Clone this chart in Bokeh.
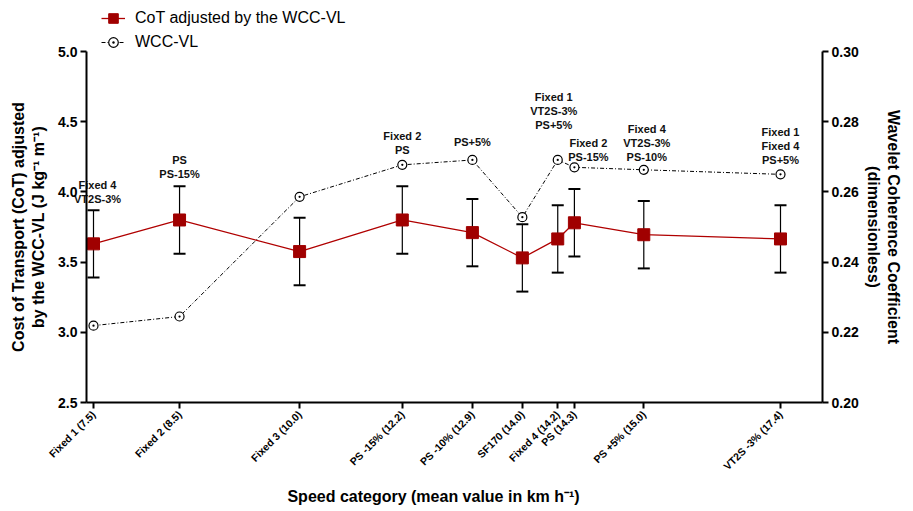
import math
from bokeh.plotting import figure
from bokeh.models import (Range1d, LinearAxis, FixedTicker, NumeralTickFormatter,
                          CustomJSTickFormatter, ColumnDataSource, Whisker, TeeHead,
                          Legend, LegendItem, Label)
from bokeh.core.properties import value
from bokeh.embed import file_html
from bokeh.resources import INLINE

# ---------------- data ----------------
x_labels = ["Fixed 1 (7.5)", "Fixed 2 (8.5)", "Fixed 3 (10.0)", "PS -15% (12.2)",
            "PS -10% (12.9)", "SF170 (14.0)", "Fixed 4 (14.2)", "PS (14.3)",
            "PS +5% (15.0)", "VT2S -3% (17.4)"]
x_pos = [7.5, 8.74, 10.47, 11.95, 12.96, 13.68, 14.19, 14.43, 15.43, 17.4]
cot = [3.63, 3.80, 3.575, 3.80, 3.71, 3.53, 3.665, 3.78, 3.695, 3.665]
cot_sd = [0.24, 0.24, 0.24, 0.24, 0.24, 0.24, 0.24, 0.24, 0.24, 0.24]
wcc = [0.2219, 0.2245, 0.2586, 0.2677, 0.2691, 0.2528, 0.2691, 0.2670, 0.2663, 0.2650]

note_idx = [0, 1, 3, 4, 6, 7, 8, 9]
note_text = ["Fixed 4\nVT2S-3%", "PS\nPS-15%", "Fixed 2\nPS", "PS+5%",
             "Fixed 1\nVT2S-3%\nPS+5%", "Fixed 2\nPS-15%",
             "Fixed 4\nVT2S-3%\nPS-10%", "Fixed 1\nFixed 4\nPS+5%"]
note_y = [3.946, 4.124, 4.295, 4.352, 4.473, 4.252, 4.252, 4.224]
note_dx = [4, 0, 0, 0, -4, 14, 3, 0]

left_ticks = [2.5, 3.0, 3.5, 4.0, 4.5, 5.0]
right_ticks = [0.20, 0.22, 0.24, 0.26, 0.28, 0.30]

FONT = "Liberation Sans"

# axis extents (data units) and full-canvas ranges
X_LO, X_HI = 7.39913, 18.00524
Y_LO, Y_HI = 2.5, 5.0
W_LO, W_HI = 0.20, 0.30

# ---------------- figure ----------------
p = figure(width=913, height=511, output_backend="svg", toolbar_location=None,
           x_range=Range1d(6.1598, 19.3166), y_range=Range1d(1.72365, 5.36325),
           min_border=0, min_border_left=0, min_border_right=0,
           min_border_top=0, min_border_bottom=0)
p.extra_y_ranges = {"wcc": Range1d(0.168946, 0.314530)}
p.xgrid.visible = False
p.ygrid.visible = False
p.outline_line_color = None
p.background_fill_color = "white"
p.border_fill_color = "white"

def style_axis(ax, fs="14px"):
    ax.axis_line_width = 2
    ax.axis_line_color = "black"
    ax.major_tick_line_width = 2
    ax.major_tick_line_color = "black"
    ax.major_tick_in = 0
    ax.major_tick_out = 6
    ax.minor_tick_line_color = None
    ax.major_label_text_font = FONT
    ax.major_label_text_font_style = "bold"
    ax.major_label_text_font_size = fs
    ax.major_label_text_color = "black"
    ax.major_label_standoff = 3
    ax.axis_label_text_font = FONT
    ax.axis_label_text_font_style = "bold"
    ax.axis_label_text_font_size = "16px"
    ax.axis_label_text_color = "black"

# bottom axis
xa = p.xaxis[0]
style_axis(xa, "10.5px")
xa.fixed_location = Y_LO
xa.bounds = (X_LO, X_HI)
xa.ticker = FixedTicker(ticks=x_pos)
xa.formatter = CustomJSTickFormatter(args=dict(xs=x_pos, labs=x_labels), code="""
    let best = 1e9, j = 0;
    for (let k = 0; k < xs.length; k++) {
        const d = Math.abs(xs[k] - tick);
        if (d < best) { best = d; j = k; }
    }
    return labs[j];
""")
xa.major_label_orientation = math.pi / 4
xa.major_label_standoff = 4

# left axis
ya = p.yaxis[0]
style_axis(ya)
ya.fixed_location = X_LO
ya.bounds = (Y_LO, Y_HI)
ya.ticker = FixedTicker(ticks=left_ticks)
ya.formatter = NumeralTickFormatter(format="0.0")
ya.axis_label = "Cost of Transport (CoT) adjusted\nby the WCC-VL (J kg\u207b\u00b9 m\u207b\u00b9)"
ya.axis_label_standoff = 8

# right axis
ra = LinearAxis(y_range_name="wcc", fixed_location=X_HI, bounds=(W_LO, W_HI))
style_axis(ra)
ra.ticker = FixedTicker(ticks=right_ticks)
ra.formatter = NumeralTickFormatter(format="0.00")
ra.axis_label = "Wavelet Coherence Coefficient\n(dimensionless)"
ra.axis_label_standoff = 3
p.add_layout(ra, "right")

# x-axis title
p.add_layout(Label(x=12.4, y=1.8305, text="Speed category (mean value in km h\u207b\u00b9)",
                   text_font=FONT, text_font_style="bold", text_font_size="16px",
                   text_align="center", text_baseline="middle", text_color="black"))

# ---------------- glyphs ----------------
src = ColumnDataSource(dict(
    x=x_pos, cot=cot, wcc=wcc,
    upper=[c + s for c, s in zip(cot, cot_sd)],
    lower=[c - s for c, s in zip(cot, cot_sd)],
))

wh = Whisker(base="x", upper="upper", lower="lower", source=src,
             line_color="black", line_width=1.2,
             upper_head=TeeHead(size=12, line_color="black", line_width=2),
             lower_head=TeeHead(size=12, line_color="black", line_width=2),
             level="underlay")
p.add_layout(wh)

wcc_line = p.line("x", "wcc", source=src, y_range_name="wcc", line_color="black",
                  line_width=1, line_dash="4 2 1 2")
wcc_pts = p.scatter("x", "wcc", source=src, y_range_name="wcc", marker="circle_dot",
                    size=9, fill_color="white", line_color="black", line_width=1.2)

cot_line = p.line("x", "cot", source=src, line_color="#B00000", line_width=1.3)
cot_pts = p.scatter("x", "cot", source=src, marker="square", size=12,
                    fill_color="#A00000", line_color="#A00000")

# annotations
nx, ny, nt, nox, noy = [], [], [], [], []
for i, txt, yb, dx in zip(note_idx, note_text, note_y, note_dx):
    lines = txt.split("\n")
    n = len(lines)
    for k, ln in enumerate(lines):
        nx.append(x_pos[i])
        ny.append(yb)
        nt.append(ln)
        nox.append(dx)
        noy.append(-(n - 1 - k) * 14)
nsrc = ColumnDataSource(dict(x=nx, y=ny, text=nt, xo=nox, yo=noy))
p.text("x", "y", text="text", x_offset="xo", y_offset="yo", source=nsrc,
       text_font=value(FONT), text_font_style="bold", text_font_size="11px",
       text_align="center", text_baseline="middle", text_color="#111111")

# legend
legend = Legend(items=[
    LegendItem(label="CoT adjusted by the WCC-VL", renderers=[cot_line, cot_pts]),
    LegendItem(label="WCC-VL", renderers=[wcc_line, wcc_pts]),
], location=(101, 457))
legend.padding = 0
legend.margin = 0
legend.spacing = 0
legend.glyph_width = 24
legend.glyph_height = 24
legend.label_height = 24
legend.label_standoff = 10
legend.border_line_color = None
legend.background_fill_alpha = 0
legend.label_text_font = FONT
legend.label_text_font_size = "16px"
legend.label_text_color = "black"
p.add_layout(legend)

open("out.html", "w").write(file_html(p, INLINE))
